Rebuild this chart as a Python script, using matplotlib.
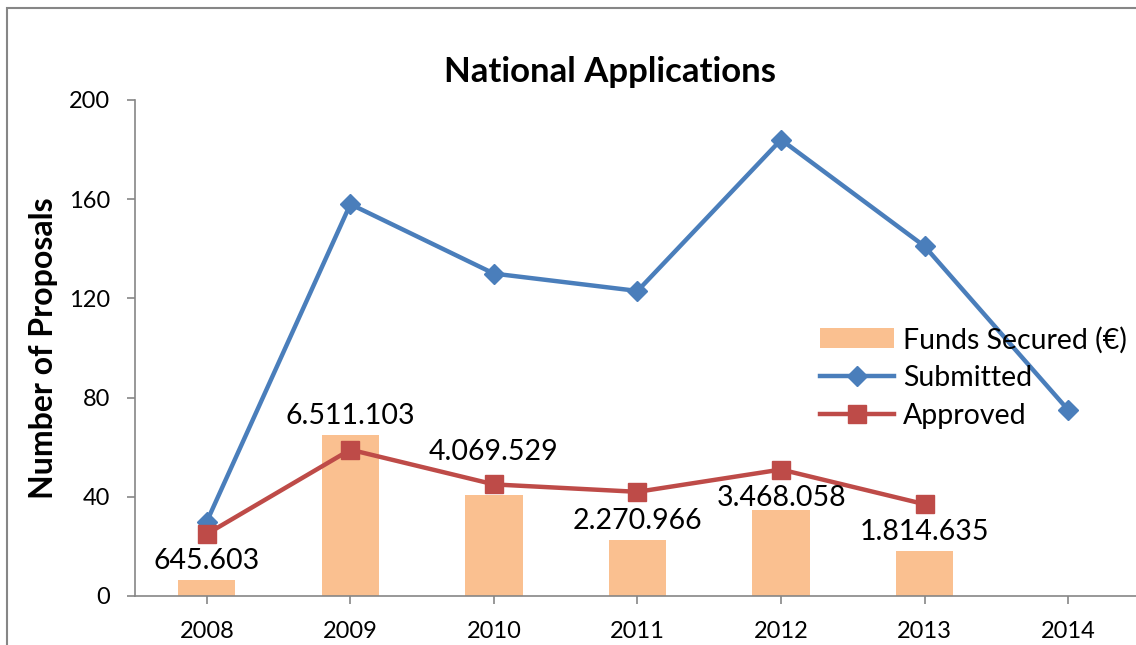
import matplotlib.pyplot as plt
from matplotlib.patches import Rectangle
import numpy as np

plt.rcParams['font.family'] = ['Lato', 'DejaVu Sans']

# data
years = ['2008', '2009', '2010', '2011', '2012', '2013', '2014']
funds = [645603, 6511103, 4069529, 2270966, 3468058, 1814635]
fund_labels = ['645.603', '6.511.103', '4.069.529', '2.270.966', '3.468.058', '1.814.635']
submitted = [30, 158, 130, 123, 184, 141, 75]
approved = [25, 59, 45, 42, 51, 37]

# label nudges (points) like Excel's auto placement
label_dy = [4, 4, 22, 4, -1, 4]

X = np.arange(len(years))
bar_h = np.array(funds) / 100000.0

fig = plt.figure(figsize=(11.36, 6.45), dpi=100)
ax = fig.add_axes([135/1136, 1-596/645, 1005/1136, 496/645])

# outer chart border
fig.patches.append(Rectangle((7/1136, -0.1), 1.2, 1-8/645+0.1, transform=fig.transFigure,
                             fill=False, edgecolor='#868686', lw=1.5))

b = ax.bar(X[:len(funds)], bar_h, width=0.4, color='#FAC090', label='Funds Secured (€)', zorder=1)
l1, = ax.plot(X, submitted, '-D', color='#4A7EBB', lw=3.2, markersize=10, label='Submitted', zorder=3)
l2, = ax.plot(X[:len(approved)], approved, '-s', color='#BE4B48', lw=3.2, markersize=13, label='Approved', zorder=3)

for xi, h, lab, dy in zip(X, bar_h, fund_labels, label_dy):
    ax.annotate(lab, (xi, h), xytext=(0, dy), textcoords='offset points',
                ha='center', va='bottom', fontsize=20.5)

ax.set_xlim(-0.5, len(years) - 0.5)
ax.set_ylim(0, 200)
ax.set_yticks([0, 40, 80, 120, 160, 200])
ax.set_xticks(X)
ax.set_xticklabels(years)
ax.tick_params(axis='both', labelsize=17, color='#868686', length=6, width=1.2)
ax.tick_params(axis='x', pad=12)
ax.tick_params(axis='y', pad=12)
for s in ['top', 'right']:
    ax.spines[s].set_visible(False)
for s in ['left', 'bottom']:
    ax.spines[s].set_color('#868686')
    ax.spines[s].set_linewidth(1.2)

ax.set_ylabel('Number of Proposals', fontsize=23, fontweight='bold', labelpad=8)
fig.text(610/1136, 1-72/645, 'National Applications', ha='center', va='center',
         fontsize=25, fontweight='bold')

ax.legend([b, l1, l2], ['Funds Secured (€)', 'Submitted', 'Approved'],
          loc='upper left', bbox_to_anchor=(674/1005, 281/496), frameon=False, fontsize=20.5,
          handlelength=2.6, handletextpad=0.3, labelspacing=0.42, borderaxespad=0)

plt.savefig('out.png', dpi=100)
